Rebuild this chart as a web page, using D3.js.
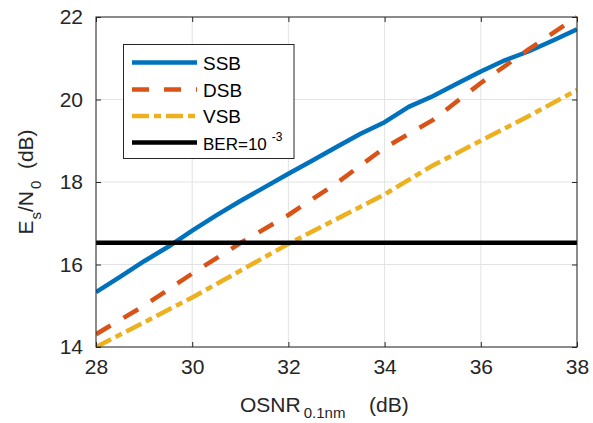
<!DOCTYPE html>
<html>
<head>
<meta charset="utf-8">
<script src="https://cdn.jsdelivr.net/npm/d3@7"></script>
<style>
  html, body { margin: 0; padding: 0; background: #fff; }
  svg { display: block; font-family: "Liberation Sans", Arial, Helvetica, sans-serif; }
</style>
</head>
<body>
<svg id="chart" width="593" height="423"></svg>
<script>
// ---- data ----
const ssbOsnr = [28, 28.5, 29, 29.5, 30, 30.5, 31, 31.5, 32, 32.5, 33, 33.5, 34, 34.5, 35, 35.5, 36, 36.5, 37, 37.5, 38];
const ssbEsN0 = [15.33, 15.70, 16.08, 16.43, 16.82, 17.19, 17.54, 17.87, 18.20, 18.52, 18.85, 19.17, 19.45, 19.82, 20.08, 20.38, 20.68, 20.95, 21.17, 21.43, 21.70];
const dsbOsnr = [28, 29, 30, 31, 32, 33, 34, 35, 36, 37, 38];
const dsbEsN0 = [14.31, 15.00, 15.78, 16.52, 17.20, 17.97, 18.83, 19.50, 20.40, 21.22, 22.00];
const vsbOsnr = [28, 29, 30, 31, 32, 33, 34, 35, 36, 37, 38];
const vsbEsN0 = [14.00, 14.60, 15.20, 15.85, 16.50, 17.10, 17.70, 18.40, 19.00, 19.60, 20.23];
const berLevel = 16.53;
const xTicks = [28, 30, 32, 34, 36, 38];
const yTicks = [14, 16, 18, 20, 22];
const seriesNames = ["SSB", "DSB", "VSB", "BER=10"];

// ---- layout ----
const svg = d3.select("#chart");
const L = 96, R = 577, T = 17, B = 347;
const x = d3.scaleLinear().domain([28, 38]).range([L, R]);
const y = d3.scaleLinear().domain([14, 22]).range([B, T]);
const axisColor = "#262626";

// grid
const g = svg.append("g");
g.selectAll(".gx").data(xTicks).enter().append("line")
  .attr("x1", d => x(d)).attr("x2", d => x(d)).attr("y1", T).attr("y2", B)
  .attr("stroke", "#e3e3e3").attr("stroke-width", 1);
g.selectAll(".gy").data(yTicks).enter().append("line")
  .attr("x1", L).attr("x2", R).attr("y1", d => y(d)).attr("y2", d => y(d))
  .attr("stroke", "#e3e3e3").attr("stroke-width", 1);

// clip
svg.append("clipPath").attr("id", "clip").append("rect")
  .attr("x", L).attr("y", T - 2).attr("width", R - L).attr("height", B - T + 2);

const line = d3.line().x(d => x(d[0])).y(d => y(d[1]));
const plot = svg.append("g").attr("clip-path", "url(#clip)");

const series = [
  { name: seriesNames[0], xs: ssbOsnr, ys: ssbEsN0, color: "#0072BD", dash: null },
  { name: seriesNames[1], xs: dsbOsnr, ys: dsbEsN0, color: "#D95319", dash: "17,15" },
  { name: seriesNames[2], xs: vsbOsnr, ys: vsbEsN0, color: "#EDB120", dash: "17,5,7,5" },
  { name: seriesNames[3], xs: [28, 38], ys: [berLevel, berLevel], color: "#000000", dash: null }
];

series.forEach(s => {
  plot.append("path")
    .datum(s.xs.map((v, k) => [v, s.ys[k]]))
    .attr("d", line)
    .attr("fill", "none")
    .attr("stroke", s.color)
    .attr("stroke-width", 4.5)
    .attr("stroke-dasharray", s.dash)
    .attr("stroke-linejoin", "round");
});

// axes box
svg.append("rect").attr("x", L).attr("y", T).attr("width", R - L).attr("height", B - T)
  .attr("fill", "none").attr("stroke", axisColor).attr("stroke-width", 1);

// axes with inward ticks
const xAxisB = d3.axisBottom(x).tickValues(xTicks).tickSizeInner(-5).tickSizeOuter(0).tickPadding(12).tickFormat(d3.format("d"));
const xAxisT = d3.axisTop(x).tickValues(xTicks).tickSizeInner(-5).tickSizeOuter(0).tickFormat("");
const yAxisL = d3.axisLeft(y).tickValues(yTicks).tickSizeInner(-5).tickSizeOuter(0).tickPadding(13).tickFormat(d3.format("d"));
const yAxisR = d3.axisRight(y).tickValues(yTicks).tickSizeInner(-5).tickSizeOuter(0).tickFormat("");

function style(sel) {
  sel.select(".domain").remove();
  sel.selectAll("line").attr("stroke", axisColor);
  sel.selectAll("text").attr("fill", axisColor).style("font-size", "21px")
    .style("font-family", "'Liberation Sans', Arial, sans-serif");
}
svg.append("g").attr("transform", `translate(0,${B})`).call(xAxisB).call(style);
svg.append("g").attr("transform", `translate(0,${T})`).call(xAxisT).call(style);
svg.append("g").attr("transform", `translate(${L},0)`).call(yAxisL).call(style);
svg.append("g").attr("transform", `translate(${R},0)`).call(yAxisR).call(style);

// x label
const xl = svg.append("text").attr("x", 240).attr("y", 412)
  .attr("fill", axisColor).style("font-size", "21px");
xl.append("tspan").text("OSNR");
xl.append("tspan").attr("dx", 3).attr("dy", 6).style("font-size", "15px").text("0.1nm");
xl.append("tspan").attr("x", 369).attr("dy", -6).text("(dB)");

// y label
const yl = svg.append("text")
  .attr("transform", `translate(33,${(T + B) / 2}) rotate(-90)`)
  .attr("text-anchor", "middle")
  .attr("fill", axisColor).style("font-size", "21px");
yl.append("tspan").text("E");
yl.append("tspan").attr("dx", 1).attr("dy", 8).style("font-size", "15px").text("s");
yl.append("tspan").attr("dy", -8).text("/N");
yl.append("tspan").attr("dx", 2).attr("dy", 8).style("font-size", "15px").text("0");
yl.append("tspan").attr("dy", -8).text("\u00a0\u00a0(dB)");

// legend
const lg = svg.append("g");
lg.append("rect").attr("x", 123.5).attr("y", 44.5).attr("width", 170.5).attr("height", 114)
  .attr("fill", "#fff").attr("stroke", axisColor).attr("stroke-width", 1);
const rowY = [62.5, 89.5, 116, 142.5];
series.forEach((s, i) => {
  lg.append("line").attr("x1", 132).attr("x2", 197).attr("y1", rowY[i]).attr("y2", rowY[i])
    .attr("stroke", s.color).attr("stroke-width", 4.5).attr("stroke-dasharray", s.dash);
  const t = lg.append("text").attr("x", 203).attr("y", rowY[i] + 7)
    .attr("fill", "#000").style("font-size", i === 3 ? "17px" : "19px").text(s.name);
  if (i === 3) {
    t.append("tspan").attr("dx", 5).attr("dy", -9).style("font-size", "12px").text("-3");
  }
});
</script>
</body>
</html>
